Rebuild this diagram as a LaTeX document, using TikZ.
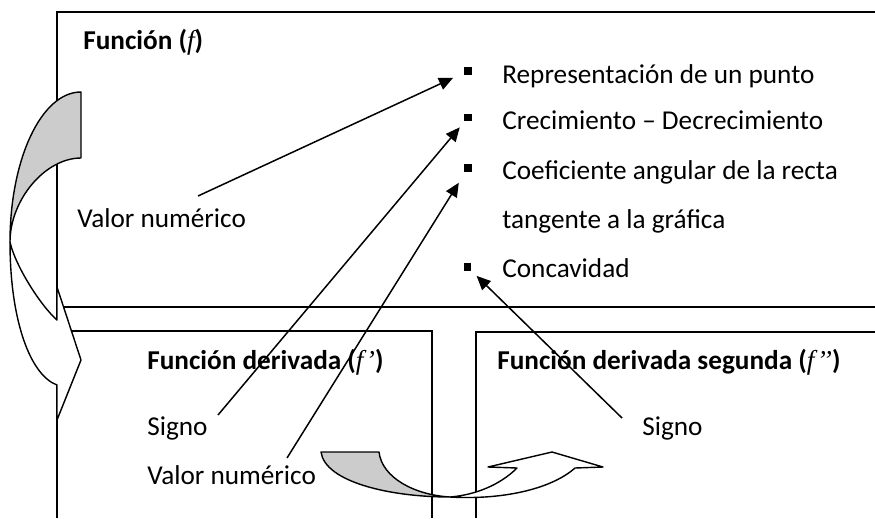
\documentclass[tikz,border=0pt]{standalone}
\usepackage{fontspec}
\setmainfont{Carlito}
\newfontfamily\fnserif{Liberation Serif}
\newcommand{\fsym}[1]{{\fnserif\mdseries\itshape #1}}
\usetikzlibrary{arrows.meta}

\tikzset{
	lbl/.style={anchor=base west, inner sep=0pt, font=\fontsize{15.5}{18}\selectfont},
	ttl/.style={lbl, font=\fontsize{15.5}{18}\selectfont\bfseries},
	bul/.style={fill=black, inner sep=0pt, minimum size=0.15cm},
	frame/.style={line width=0.8pt},
	conn/.style={-{Triangle[length=0.28cm,width=0.25cm]}, line width=0.85pt},
	back/.style={draw, fill=black!20, line width=0.8pt, line join=round},
	front/.style={draw, fill=white, line width=0.8pt, line join=round}
}

\begin{document}
\begin{tikzpicture}[x=0.02cm, y=-0.02cm]
	\useasboundingbox (0,0) rectangle (875,518);
	\draw[frame] (57,518) -- (57,12) -- (875,12);
	\draw[frame] (57,307) -- (875,307);
	\draw[frame] (57,331) -- (432,331) -- (432,518);
	\draw[frame] (875,332) -- (476,332) -- (476,518);

	\node[ttl] (fun) at (83,49) {Función (\fsym{f})};
	\node[bul] (b1) at (468,71) {};
	\node[lbl] (r1) at (502,83) {Representación de un punto};
	\node[bul] (b2) at (468,117.5) {};
	\node[lbl] (r2) at (502,129) {Crecimiento – Decrecimiento};
	\node[bul] (b3) at (468,168) {};
	\node[lbl] (r3) at (502,179) {Coeficiente angular de la recta};
	\node[lbl] (r3b) at (502,228) {tangente a la gráfica};
	\node[bul] (b4) at (467.5,267) {};
	\node[lbl] (r4) at (502,277) {Concavidad};
	\node[lbl] (vn1) at (77,227) {Valor numérico};
	\node[ttl] (der1) at (147,369) {Función derivada (\fsym{f’})};
	\node[lbl] (sg1) at (147,435) {Signo};
	\node[lbl] (vn2) at (147,484) {Valor numérico};
	\node[ttl] (der2) at (497,369) {Función derivada segunda (\fsym{f’’})};
	\node[lbl] (sg2) at (642,435) {Signo};

	\draw[back] (81,92) -- (81,158) .. controls (45,158) and (10,200) .. (10,242)
		.. controls (10,160) and (41,92) .. (81,92) -- cycle;
	\draw[front] (10,242) .. controls (10,320) and (30,375) .. (57,385) -- (57,420) -- (81,360)
		-- (57,287) -- (57,320) .. controls (40,305) and (15,265) .. (10,242) -- cycle;

	\draw[back] (321,452) -- (379,452) .. controls (382,478) and (415,495) .. (450,497)
		.. controls (390,497) and (325,482) .. (321,452) -- cycle;
	\draw[front] (450,497) .. controls (500,500) and (550,490) .. (575,468) -- (603,467) -- (552,452)
		-- (488,467) -- (517,468) .. controls (500,485) and (475,495) .. (450,497) -- cycle;

	\coordinate (s1) at (198,196);
	\coordinate (s2) at (218,415);
	\coordinate (s3) at (287,458);
	\coordinate (s4) at (622,418);
	\draw[conn, shorten >=0.24cm] (s1) -- (b1);
	\draw[conn, shorten >=0.15cm] (s2) -- (b2);
	\draw[conn, shorten >=0.25cm] (s3) -- (b3);
	\draw[conn, shorten >=0.14cm] (s4) -- (b4);
\end{tikzpicture}
\end{document}
